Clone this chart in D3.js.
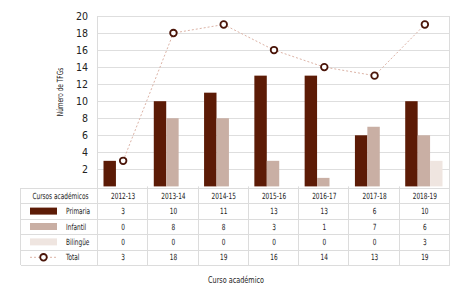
<!DOCTYPE html>
<html>
<head>
<meta charset="utf-8">
<script src="https://cdn.jsdelivr.net/npm/d3@7"></script>
<style>
  body { margin: 0; background: #fff; }
  text { font-family: "DejaVu Sans Condensed", "Liberation Sans Narrow", sans-serif; font-stretch: condensed; fill: #222; }
</style>
</head>
<body>
<figure id="chart" style="margin:0"></figure>
<script>
// data
var cursos = ["2012-13", "2013-14", "2014-15", "2015-16", "2016-17", "2017-18", "2018-19"];
var primaria = [3, 10, 11, 13, 13, 6, 10];
var infantil = [0, 8, 8, 3, 1, 7, 6];
var bilingue = [0, 0, 0, 0, 0, 0, 3];
var total = [3, 18, 19, 16, 14, 13, 19];
var yTicks = [2, 4, 6, 8, 10, 12, 14, 16, 18, 20];

var series = [
    { name: "Primaria", values: primaria, color: "#5c1b06" },
    { name: "Infantil", values: infantil, color: "#c9afa4" },
    { name: "Bilingüe", values: bilingue, color: "#efe5e0" }
];

let dimensions = {
    width: 472,
    height: 301,
    plotLeft: 98,
    plotRight: 450,
    plotTop: 16,
    plotBottom: 186.4,
    tableLeft: 21,
    rowTop: 188,
    rowH: 15.4
};

// the original font is a narrow one, so text gets squeezed sideways
var squeeze = 0.76;
var sq = (x, y) => `translate(${x}, ${y}) scale(${squeeze}, 1)`;

var svg = d3.select("figure#chart")
    .append("svg")
    .attr("width", dimensions.width)
    .attr("height", dimensions.height);

var xScale = d3.scaleBand()
    .domain(cursos)
    .range([dimensions.plotLeft, dimensions.plotRight]);

var subScale = d3.scaleBand()
    .domain(series.map(d => d.name))
    .range([5.5, xScale.bandwidth() - 7.5]);

var yScale = d3.scaleLinear()
    .domain([0, 20])
    .range([dimensions.plotBottom, dimensions.plotTop]);

// gridlines
svg.append("g")
    .selectAll("line")
    .data(yTicks)
    .enter()
    .append("line")
    .attr("x1", dimensions.plotLeft)
    .attr("x2", dimensions.plotRight)
    .attr("y1", d => Math.round(yScale(d)) + 0.5)
    .attr("y2", d => Math.round(yScale(d)) + 0.5)
    .attr("stroke", "#dedede")
    .attr("stroke-width", 1);

// y axis labels
var yAxis = svg.append("g")
    .attr("transform", `translate(${dimensions.plotLeft}, 0)`)
    .call(d3.axisLeft(yScale).tickValues(yTicks).tickSize(0).tickPadding(10));
yAxis.select(".domain").remove();
yAxis.selectAll("text")
    .style("font-size", "10.5px")
    .style("font-family", "\"DejaVu Sans Condensed\", sans-serif")
    .attr("fill", "#222");

svg.append("text")
    .attr("transform", `translate(63, 92) rotate(-90) scale(${squeeze}, 1)`)
    .attr("text-anchor", "middle")
    .style("font-size", "8.5px")
    .text("Número de TFGs");

// bars
series.forEach(s => {
    svg.append("g")
        .selectAll("rect")
        .data(s.values)
        .enter()
        .append("rect")
        .attr("x", (d, i) => xScale(cursos[i]) + subScale(s.name))
        .attr("width", subScale.bandwidth())
        .attr("y", d => yScale(d))
        .attr("height", d => yScale(0) - yScale(d))
        .attr("fill", s.color);
});

// total line
var line = d3.line()
    .x((d, i) => xScale(cursos[i]) + xScale.bandwidth() / 2)
    .y(d => yScale(d));

svg.append("path")
    .datum(total)
    .attr("d", line)
    .attr("fill", "none")
    .attr("stroke", "#dcb3a6")
    .attr("stroke-width", 1)
    .attr("stroke-dasharray", "2,2");

svg.append("g")
    .selectAll("circle")
    .data(total)
    .enter()
    .append("circle")
    .attr("cx", (d, i) => xScale(cursos[i]) + xScale.bandwidth() / 2)
    .attr("cy", d => yScale(d))
    .attr("r", 3.3)
    .attr("fill", "#fff")
    .attr("stroke", "#4a1509")
    .attr("stroke-width", 1.8);

// data table
var rows = ["header"].concat(series.map(d => d.name)).concat(["Total"]);
var rowValues = [cursos, primaria, infantil, bilingue, total];
var rowY = d3.scaleBand()
    .domain(rows)
    .range([dimensions.rowTop, dimensions.rowTop + dimensions.rowH * rows.length]);

var table = svg.append("g");
var lineColor = "#dcdcdc";

// horizontal lines
rows.concat(["end"]).forEach((r, i) => {
    var y = (r === "end") ? rowY.range()[1] : rowY(r);
    table.append("line")
        .attr("x1", dimensions.tableLeft)
        .attr("x2", dimensions.plotRight)
        .attr("y1", Math.round(y) + 0.5)
        .attr("y2", Math.round(y) + 0.5)
        .attr("stroke", lineColor);
});

// vertical lines
var vx = [dimensions.tableLeft].concat(cursos.map(c => xScale(c))).concat([dimensions.plotRight]);
vx.forEach((x, i) => {
    var top = dimensions.plotBottom;
    if (i === 0) top = rowY.range()[0];
    if (i === 1 || i === vx.length - 1) top = dimensions.plotTop;
    table.append("line")
        .attr("x1", Math.round(x) - 0.5)
        .attr("x2", Math.round(x) - 0.5)
        .attr("y1", top)
        .attr("y2", rowY.range()[1])
        .attr("stroke", lineColor);
});

// cell values
rowValues.forEach((vals, r) => {
    table.append("g")
        .selectAll("text")
        .data(vals)
        .enter()
        .append("text")
        .attr("transform", (d, i) => sq(xScale(cursos[i]) + xScale.bandwidth() / 2, rowY(rows[r]) + rowY.bandwidth() / 2 + 3))
        .attr("text-anchor", "middle")
        .style("font-size", "8.5px")
        .text(d => d);
});

// legend column
table.append("text")
    .attr("transform", sq((dimensions.tableLeft + dimensions.plotLeft) / 2 + 1, rowY("header") + rowY.bandwidth() / 2 + 3))
    .attr("text-anchor", "middle")
    .style("font-size", "8.5px")
    .text("Cursos académicos");

series.forEach(s => {
    var cy = rowY(s.name) + rowY.bandwidth() / 2;
    table.append("rect")
        .attr("x", 30)
        .attr("y", cy - 3.5)
        .attr("width", 27)
        .attr("height", 7)
        .attr("fill", s.color);
    table.append("text")
        .attr("transform", sq(66, cy + 3))
        .style("font-size", "8.5px")
        .text(s.name);
});

var ty = rowY("Total") + rowY.bandwidth() / 2;
table.append("line")
    .attr("x1", 30).attr("x2", 57)
    .attr("y1", ty).attr("y2", ty)
    .attr("stroke", "#dcb3a6")
    .attr("stroke-dasharray", "2,2");
table.append("circle")
    .attr("cx", 43.5).attr("cy", ty)
    .attr("r", 3.3)
    .attr("fill", "#fff")
    .attr("stroke", "#4a1509")
    .attr("stroke-width", 1.8);
table.append("text")
    .attr("transform", sq(66, ty + 3))
    .style("font-size", "8.5px")
    .text("Total");

// x title
svg.append("text")
    .attr("transform", sq(236, 283))
    .attr("text-anchor", "middle")
    .style("font-size", "9.5px")
    .text("Curso académico");
</script>
</body>
</html>
